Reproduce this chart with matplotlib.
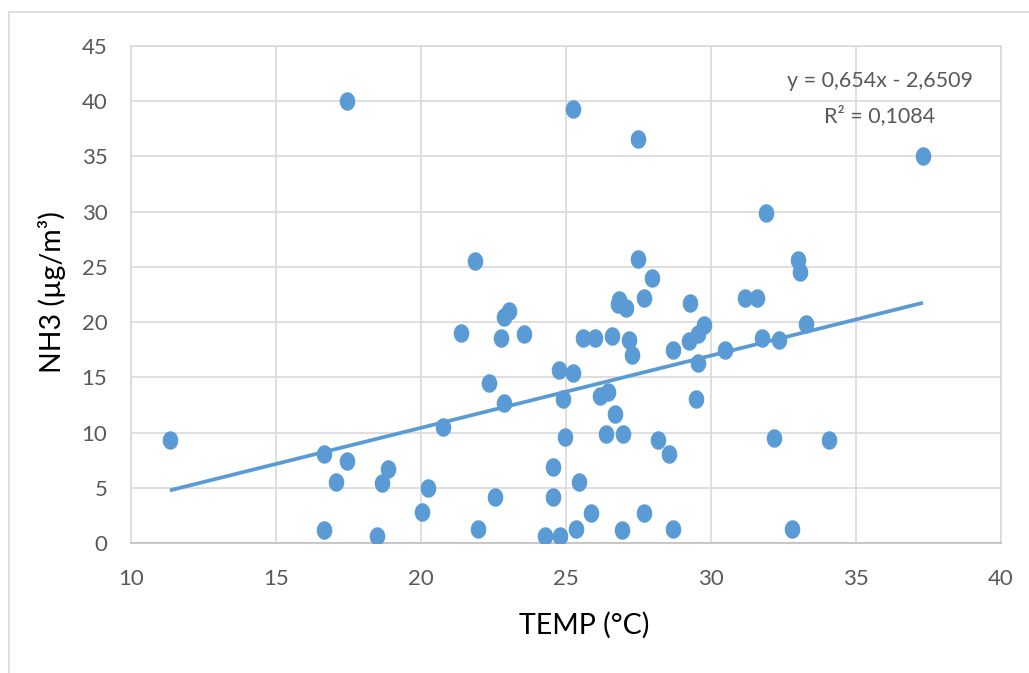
import numpy as np
import matplotlib
matplotlib.use("Agg")
import matplotlib.pyplot as plt
from matplotlib.patches import Rectangle

# Measured air temperature (°C) and NH3 concentration (µg/m³)
temp = [11.34, 17.45, 16.66, 17.45, 17.07, 18.86, 18.66, 16.66, 18.48, 20.03,
        20.24, 20.76, 21.38, 21.86, 21.97, 22.34, 22.55, 22.76, 22.86, 23.03,
        22.86, 23.55, 24.28, 24.55, 24.55, 24.79, 24.76, 24.90, 24.97, 25.24,
        25.24, 25.34, 25.45, 25.59, 25.86, 26.00, 26.17, 26.38, 26.45, 26.59,
        26.69, 26.79, 26.82, 26.93, 26.97, 27.07, 27.17, 27.28, 27.48, 27.48,
        27.69, 27.69, 27.97, 28.17, 28.55, 28.69, 28.69, 29.28, 29.24, 29.48,
        29.55, 29.55, 29.76, 30.48, 31.17, 31.59, 31.76, 31.90, 32.17, 32.34,
        32.79, 33.00, 33.07, 33.28, 34.07, 37.31]
nh3 = [9.3, 40.0, 8.1, 7.4, 5.5, 6.7, 5.4, 1.2, 0.6, 2.8,
       5.0, 10.5, 19.0, 25.5, 1.3, 14.5, 4.2, 18.6, 20.5, 21.0,
       12.7, 18.9, 0.6, 6.9, 4.2, 0.6, 15.7, 13.0, 9.6, 39.3,
       15.4, 1.3, 5.5, 18.6, 2.7, 18.6, 13.3, 9.9, 13.7, 18.7,
       11.7, 21.6, 22.0, 1.2, 9.9, 21.3, 18.4, 17.0, 36.6, 25.7,
       22.2, 2.7, 24.0, 9.3, 8.1, 17.5, 1.3, 21.7, 18.3, 13.0,
       18.9, 16.3, 19.7, 17.5, 22.2, 22.2, 18.6, 29.9, 9.5, 18.4,
       1.3, 25.6, 24.5, 19.8, 9.3, 35.0]

# Linear trend coefficients and goodness of fit
slope = 0.654
intercept = -2.6509
r_squared = 0.1084

x_ticks = [10, 15, 20, 25, 30, 35, 40]
y_ticks = [0, 5, 10, 15, 20, 25, 30, 35, 40, 45]

blue = "#5B9BD5"
grid_gray = "#D9D9D9"
text_gray = "#595959"
font = ["Lato", "DejaVu Sans"]

W, H = 1029, 673
fig = plt.figure(figsize=(W / 100, H / 100), dpi=100)
fig.patch.set_facecolor("white")
# Outer chart frame (runs off the right and bottom edges)
fig.add_artist(Rectangle((9 / W, -0.2), 1.2, 1.2 - 12 / H, transform=fig.transFigure,
                         fill=False, edgecolor=grid_gray, linewidth=1.2))

ax = fig.add_axes([131 / W, 1 - 543 / H, 870 / W, 497 / H])
ax.set_xlim(10, 40)
ax.set_ylim(0, 45)
ax.set_xticks(x_ticks)
ax.set_yticks(y_ticks)
ax.grid(True, color=grid_gray, linewidth=1.2)
ax.set_axisbelow(True)
for sp in ax.spines.values():
    sp.set_color(grid_gray)
    sp.set_linewidth(1.2)
ax.spines["bottom"].set_color("#BFBFBF")
ax.tick_params(axis="x", length=0, pad=19, labelsize=16, labelcolor=text_gray)
ax.tick_params(axis="y", length=0, pad=17, labelsize=16, labelcolor=text_gray)
for lab in ax.get_xticklabels() + ax.get_yticklabels():
    lab.set_family(font)

# Elliptical markers, slightly taller than wide
theta = np.linspace(0, 2 * np.pi, 60)
ellipse = list(zip(0.84 * np.cos(theta), np.sin(theta)))
ax.scatter(temp, nh3, marker=ellipse, s=(18.5 * 0.72) ** 2, color=blue,
           linewidths=0, zorder=3)

# Trend line across the data range
xs = np.array([min(temp), max(temp)])
ax.plot(xs, slope * xs + intercept, color=blue, linewidth=2.7,
        solid_capstyle="butt", zorder=2)

eq = f"y = {slope:.3f}x - {abs(intercept):.4f}".replace(".", ",")
r2 = f"R² = {r_squared:.4f}".replace(".", ",")
fig.text(880 / W, 1 - 81 / H, eq, ha="center", va="center", fontsize=15.5,
         color=text_gray, family=font)
fig.text(880 / W, 1 - 116 / H, r2, ha="center", va="center", fontsize=15.5,
         color=text_gray, family=font)

fig.text(584 / W, 1 - 625 / H, "TEMP (°C)", ha="center", va="center",
         fontsize=20.5, color="black", family=font)
fig.text(52 / W, 1 - 292 / H, "NH3 (µg/m³)", ha="center", va="center",
         rotation=90, fontsize=20.5, color="black", family=font)

fig.savefig("out.png", dpi=100, facecolor="white")
